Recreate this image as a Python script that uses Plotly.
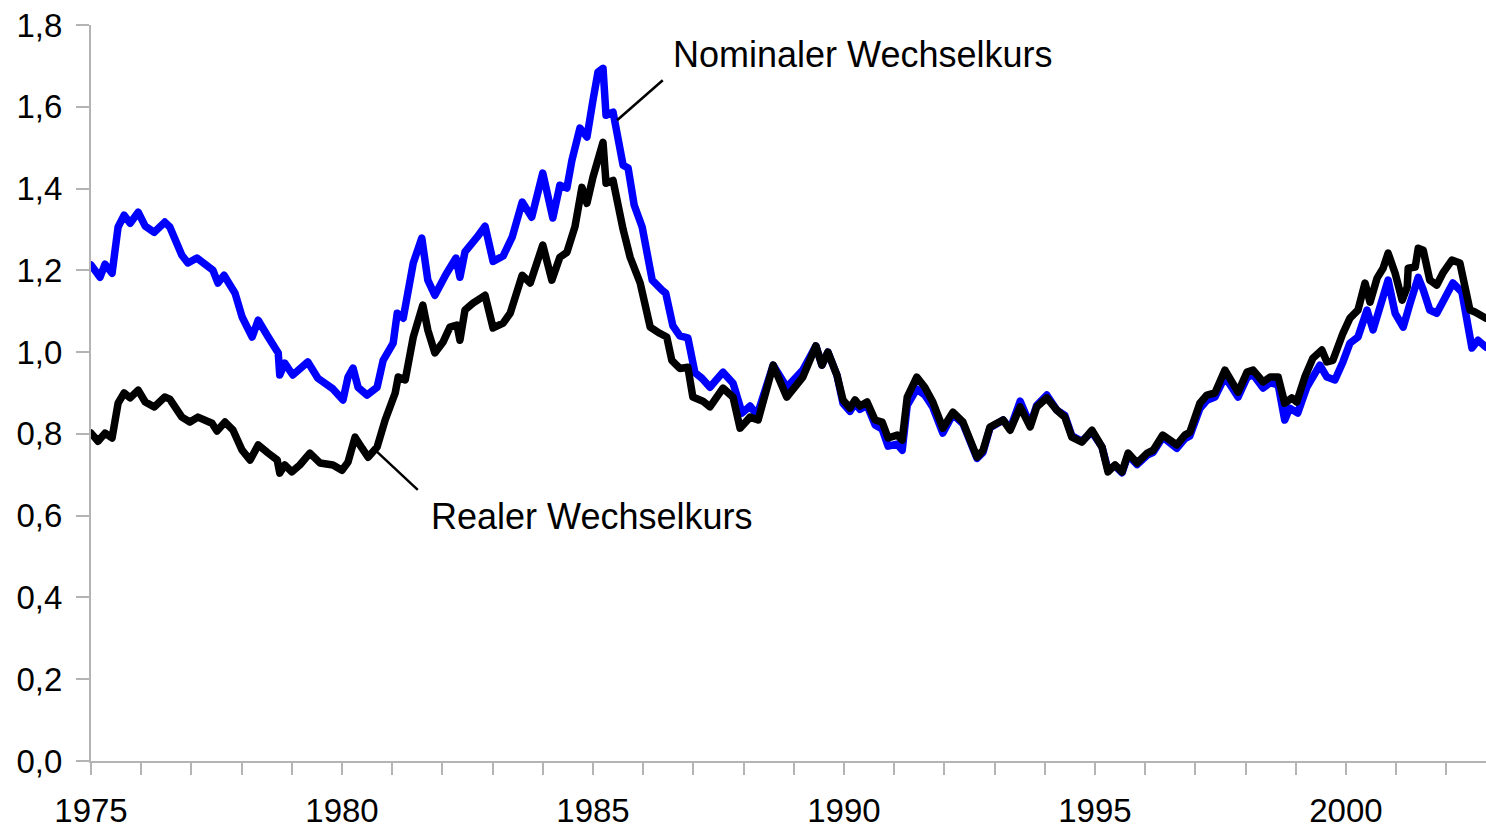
import plotly.graph_objects as go

# Nominal exchange rate (blue), decimal years and values
nominal_years = [1975.00, 1975.18, 1975.28, 1975.42, 1975.54, 1975.66, 1975.78, 1975.94, 1976.08, 1976.26,
                 1976.47, 1976.57, 1976.81, 1976.93, 1977.11, 1977.27, 1977.43, 1977.53, 1977.65, 1977.87,
                 1978.01, 1978.21, 1978.33, 1978.53, 1978.73, 1978.76, 1978.86, 1979.02, 1979.32, 1979.52,
                 1979.82, 1980.02, 1980.12, 1980.22, 1980.32, 1980.50, 1980.70, 1980.82, 1981.02, 1981.10,
                 1981.22, 1981.42, 1981.59, 1981.71, 1981.85, 1982.07, 1982.27, 1982.35, 1982.45, 1982.69,
                 1982.85, 1983.01, 1983.21, 1983.39, 1983.59, 1983.78, 1984.00, 1984.20, 1984.34, 1984.48,
                 1984.58, 1984.74, 1984.88, 1985.00, 1985.10, 1985.20, 1985.26, 1985.40, 1985.60, 1985.70,
                 1985.82, 1985.98, 1986.06, 1986.18, 1986.37, 1986.45, 1986.59, 1986.73, 1986.89, 1987.03,
                 1987.17, 1987.33, 1987.59, 1987.79, 1987.97, 1988.13, 1988.27, 1988.59, 1988.86, 1989.18,
                 1989.44, 1989.56, 1989.68, 1989.86, 1989.98, 1990.12, 1990.22, 1990.32, 1990.46, 1990.62,
                 1990.76, 1990.88, 1991.06, 1991.16, 1991.26, 1991.45, 1991.61, 1991.77, 1991.97, 1992.17,
                 1992.37, 1992.55, 1992.65, 1992.77, 1992.91, 1993.17, 1993.31, 1993.51, 1993.71, 1993.84,
                 1994.04, 1994.24, 1994.40, 1994.54, 1994.74, 1994.94, 1995.14, 1995.26, 1995.40, 1995.54,
                 1995.66, 1995.84, 1996.04, 1996.16, 1996.35, 1996.63, 1996.79, 1996.89, 1997.09, 1997.23,
                 1997.39, 1997.59, 1997.73, 1997.85, 1998.03, 1998.15, 1998.35, 1998.49, 1998.65, 1998.78,
                 1998.88, 1999.04, 1999.22, 1999.48, 1999.62, 1999.78, 1999.94, 2000.08, 2000.24, 2000.42,
                 2000.54, 2000.68, 2000.84, 2000.98, 2001.14, 2001.28, 2001.44, 2001.54, 2001.67, 2001.81,
                 2001.97, 2002.13, 2002.31, 2002.43, 2002.51, 2002.63, 2002.79]
nominal_values = [1.213, 1.183, 1.215, 1.193, 1.306, 1.335, 1.315, 1.342, 1.308, 1.293,
                  1.318, 1.306, 1.237, 1.218, 1.230, 1.215, 1.200, 1.169, 1.188, 1.144,
                  1.086, 1.037, 1.078, 1.037, 0.998, 0.944, 0.973, 0.944, 0.976, 0.936,
                  0.910, 0.883, 0.939, 0.961, 0.914, 0.895, 0.914, 0.980, 1.022, 1.095,
                  1.083, 1.218, 1.279, 1.176, 1.139, 1.190, 1.230, 1.183, 1.245, 1.281,
                  1.308, 1.222, 1.235, 1.281, 1.367, 1.330, 1.438, 1.328, 1.408, 1.401,
                  1.469, 1.548, 1.526, 1.616, 1.685, 1.694, 1.579, 1.587, 1.457, 1.450,
                  1.360, 1.306, 1.250, 1.176, 1.152, 1.144, 1.065, 1.040, 1.035, 0.950,
                  0.936, 0.914, 0.951, 0.924, 0.851, 0.868, 0.846, 0.968, 0.914, 0.956,
                  1.015, 0.968, 1.000, 0.944, 0.875, 0.855, 0.875, 0.860, 0.870, 0.822,
                  0.812, 0.770, 0.775, 0.760, 0.870, 0.910, 0.895, 0.865, 0.802, 0.848,
                  0.825, 0.775, 0.740, 0.755, 0.815, 0.834, 0.812, 0.880, 0.822, 0.870,
                  0.895, 0.858, 0.845, 0.795, 0.782, 0.805, 0.768, 0.712, 0.722, 0.705,
                  0.748, 0.725, 0.748, 0.755, 0.792, 0.765, 0.788, 0.795, 0.862, 0.882,
                  0.890, 0.940, 0.912, 0.890, 0.938, 0.945, 0.912, 0.925, 0.920, 0.834,
                  0.863, 0.851, 0.914, 0.968, 0.939, 0.932, 0.976, 1.022, 1.037, 1.103,
                  1.054, 1.110, 1.176, 1.095, 1.061, 1.120, 1.183, 1.152, 1.103, 1.095,
                  1.132, 1.169, 1.147, 1.061, 1.010, 1.029, 1.012]

# Real exchange rate (black)
real_years = [1975.00, 1975.14, 1975.28, 1975.42, 1975.54, 1975.66, 1975.78, 1975.94, 1976.08, 1976.26,
              1976.47, 1976.57, 1976.81, 1976.97, 1977.13, 1977.41, 1977.51, 1977.67, 1977.83, 1978.01,
              1978.17, 1978.33, 1978.53, 1978.71, 1978.76, 1978.86, 1979.00, 1979.16, 1979.36, 1979.56,
              1979.82, 1980.00, 1980.12, 1980.26, 1980.40, 1980.52, 1980.70, 1980.86, 1981.06, 1981.12,
              1981.26, 1981.42, 1981.61, 1981.71, 1981.85, 1982.01, 1982.15, 1982.29, 1982.35, 1982.45,
              1982.61, 1982.85, 1983.01, 1983.21, 1983.35, 1983.59, 1983.75, 1984.00, 1984.18, 1984.34,
              1984.48, 1984.64, 1984.78, 1984.88, 1985.00, 1985.14, 1985.20, 1985.26, 1985.40, 1985.60,
              1985.74, 1985.94, 1986.14, 1986.33, 1986.47, 1986.57, 1986.73, 1986.89, 1986.99, 1987.19,
              1987.33, 1987.59, 1987.79, 1987.93, 1988.13, 1988.29, 1988.59, 1988.86, 1989.18, 1989.44,
              1989.56, 1989.68, 1989.86, 1989.98, 1990.12, 1990.22, 1990.32, 1990.46, 1990.62, 1990.76,
              1990.88, 1991.06, 1991.16, 1991.26, 1991.45, 1991.61, 1991.77, 1991.97, 1992.17, 1992.37,
              1992.55, 1992.65, 1992.77, 1992.91, 1993.17, 1993.31, 1993.51, 1993.71, 1993.84, 1994.04,
              1994.24, 1994.40, 1994.54, 1994.74, 1994.94, 1995.14, 1995.26, 1995.40, 1995.54, 1995.66,
              1995.84, 1996.04, 1996.16, 1996.35, 1996.63, 1996.79, 1996.89, 1997.09, 1997.23, 1997.39,
              1997.59, 1997.73, 1997.85, 1998.03, 1998.15, 1998.35, 1998.49, 1998.65, 1998.78, 1998.92,
              1999.02, 1999.18, 1999.34, 1999.52, 1999.62, 1999.74, 1999.88, 1999.94, 2000.08, 2000.24,
              2000.38, 2000.48, 2000.62, 2000.74, 2000.84, 2000.98, 2001.12, 2001.22, 2001.24, 2001.38,
              2001.44, 2001.54, 2001.67, 2001.81, 2001.93, 2002.11, 2002.27, 2002.47, 2002.57, 2002.79]
real_values = [0.802, 0.782, 0.802, 0.790, 0.875, 0.900, 0.888, 0.907, 0.878, 0.866,
               0.890, 0.885, 0.841, 0.829, 0.841, 0.826, 0.807, 0.829, 0.809, 0.760,
               0.736, 0.773, 0.753, 0.736, 0.704, 0.724, 0.707, 0.724, 0.753, 0.729,
               0.724, 0.711, 0.731, 0.792, 0.765, 0.743, 0.768, 0.834, 0.900, 0.939,
               0.932, 1.037, 1.115, 1.054, 0.998, 1.024, 1.061, 1.066, 1.029, 1.103,
               1.120, 1.139, 1.059, 1.071, 1.095, 1.188, 1.169, 1.262, 1.176, 1.232,
               1.244, 1.306, 1.403, 1.364, 1.428, 1.494, 1.513, 1.413, 1.420, 1.300,
               1.232, 1.169, 1.061, 1.046, 1.037, 0.980, 0.960, 0.963, 0.890, 0.880,
               0.866, 0.912, 0.890, 0.814, 0.841, 0.834, 0.968, 0.890, 0.939, 1.015,
               0.968, 1.000, 0.944, 0.883, 0.863, 0.883, 0.868, 0.878, 0.834, 0.829,
               0.790, 0.797, 0.785, 0.890, 0.939, 0.914, 0.878, 0.814, 0.853, 0.829,
               0.778, 0.743, 0.760, 0.817, 0.834, 0.809, 0.866, 0.817, 0.866, 0.888,
               0.858, 0.841, 0.792, 0.780, 0.809, 0.768, 0.707, 0.724, 0.707, 0.753,
               0.729, 0.753, 0.760, 0.797, 0.773, 0.797, 0.804, 0.875, 0.895, 0.900,
               0.956, 0.924, 0.902, 0.951, 0.956, 0.927, 0.939, 0.939, 0.875, 0.888,
               0.878, 0.939, 0.985, 1.005, 0.976, 0.980, 1.029, 1.046, 1.083, 1.103,
               1.169, 1.122, 1.181, 1.205, 1.242, 1.193, 1.127, 1.159, 1.205, 1.208,
               1.254, 1.249, 1.176, 1.164, 1.193, 1.225, 1.218, 1.103, 1.098, 1.083]

year_ticks = [1975, 1980, 1985, 1990, 1995, 2000]
y_ticks = [0.0, 0.2, 0.4, 0.6, 0.8, 1.0, 1.2, 1.4, 1.6, 1.8]

FONT = "Liberation Sans, Arial, sans-serif"
AXIS_GRAY = "#b4b4b4"

fig = go.Figure()
fig.add_trace(go.Scatter(x=nominal_years, y=nominal_values, mode="lines",
                         name="Nominaler Wechselkurs",
                         line=dict(color="#0000ff", width=7.5)))
fig.add_trace(go.Scatter(x=real_years, y=real_values, mode="lines",
                         name="Realer Wechselkurs",
                         line=dict(color="#000000", width=7.5)))

# Label leader lines
fig.add_shape(type="line", x0=1985.48, y0=1.567, x1=1986.39, y1=1.665,
              line=dict(color="black", width=2.5))
fig.add_shape(type="line", x0=1980.70, y0=0.756, x1=1981.51, y1=0.663,
              line=dict(color="black", width=2.5))

fig.add_annotation(x=1986.57, y=1.729, text="Nominaler Wechselkurs", showarrow=False,
                   xanchor="left", yanchor="middle", borderpad=0,
                   font=dict(family=FONT, size=36, color="black"))
fig.add_annotation(x=1981.75, y=0.597, text="Realer Wechselkurs", showarrow=False,
                   xanchor="left", yanchor="middle", borderpad=0,
                   font=dict(family=FONT, size=36, color="black"))

fig.update_layout(
    width=1486, height=829,
    margin=dict(l=91, r=0, t=25, b=68, autoexpand=False),
    paper_bgcolor="white", plot_bgcolor="white",
    showlegend=False,
    hovermode=False,
    separators=",.",
    font=dict(family=FONT, size=33, color="black"),
    xaxis=dict(range=[1975, 2002.79], tickvals=year_ticks, ticktext=[str(y) for y in year_ticks],
               automargin=False,
               showgrid=False, zeroline=False, showline=True, linecolor=AXIS_GRAY, linewidth=2,
               ticks="outside", ticklen=12, tickwidth=1.5, tickcolor=AXIS_GRAY,
               ticklabelstandoff=7,
               minor=dict(dtick=1, tick0=1975, ticks="outside", ticklen=12, tickwidth=1.5,
                          tickcolor=AXIS_GRAY, showgrid=False),
               tickfont=dict(family=FONT, size=33, color="black")),
    yaxis=dict(range=[0, 1.8], tickvals=y_ticks, tickformat=".1f",
               automargin=False,
               showgrid=False, zeroline=False, showline=True, linecolor=AXIS_GRAY, linewidth=2,
               ticks="outside", ticklen=13, tickwidth=1.5, tickcolor=AXIS_GRAY,
               ticklabelstandoff=7,
               tickfont=dict(family=FONT, size=33, color="black")),
)

post = ("document.body.style.margin='0';document.body.style.overflow='hidden';"
        "document.querySelectorAll('.scatterlayer path.js-line').forEach(function(p){"
        "p.style.strokeLinejoin='round';p.style.strokeLinecap='round';});")

fig.write_html("out.html", config={"displayModeBar": False}, post_script=post)
